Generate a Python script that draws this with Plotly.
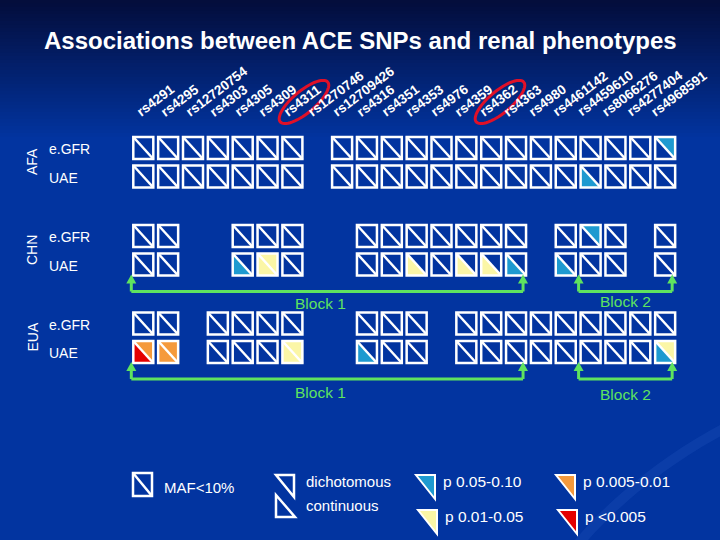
import numpy as np
import plotly.graph_objects as go

# ---------------- data ----------------
title = "Associations between ACE SNPs and renal phenotypes"
snps = ["rs4291", "rs4295", "rs12720754", "rs4303", "rs4305", "rs4309", "rs4311",
        "rs1270746", "rs12709426", "rs4316", "rs4351", "rs4353", "rs4976", "rs4359",
        "rs4362", "rs4363", "rs4980", "rs4461142", "rs4459610", "rs8066276",
        "rs4277404", "rs4968591"]
highlighted = ["rs4311", "rs4362"]
populations = ["AFA", "CHN", "EUA"]
phenotypes = ["e.GFR", "UAE"]

# SNPs analysed (MAF >= 10%) per population (indices into snps)
afa_snps = [0, 1, 2, 3, 4, 5, 6, 8, 9, 10, 11, 12, 13, 14, 15, 16, 17, 18, 19, 20, 21]
chn_snps = [0, 1, 4, 5, 6, 9, 10, 11, 12, 13, 14, 15, 17, 18, 19, 21]
eua_snps = [0, 1, 3, 4, 5, 6, 9, 10, 11, 13, 14, 15, 16, 17, 18, 19, 20, 21]
pop_snps = {"AFA": afa_snps, "CHN": chn_snps, "EUA": eua_snps}

# associations: population, phenotype, snp index, model, p-value class
assoc_pop = ["AFA", "AFA", "CHN", "CHN", "CHN", "CHN", "CHN", "CHN", "CHN", "CHN", "CHN",
             "EUA", "EUA", "EUA", "EUA", "EUA", "EUA", "EUA", "EUA", "EUA"]
assoc_pheno = ["e.GFR", "UAE", "e.GFR", "UAE", "UAE", "UAE", "UAE", "UAE", "UAE", "UAE", "UAE",
               "UAE", "UAE", "UAE", "UAE", "UAE", "UAE", "UAE", "UAE", "UAE"]
assoc_snp = [21, 18, 18, 4, 5, 11, 13, 14, 15, 17, 5,
             0, 0, 1, 1, 6, 6, 9, 21, 21]
assoc_model = ["dichotomous", "continuous", "dichotomous", "continuous", "continuous",
               "continuous", "continuous", "continuous", "continuous", "continuous", "dichotomous",
               "continuous", "dichotomous", "continuous", "dichotomous", "continuous", "dichotomous",
               "continuous", "continuous", "dichotomous"]
assoc_level = ["p 0.05-0.10", "p 0.05-0.10", "p 0.05-0.10", "p 0.05-0.10", "p 0.01-0.05",
               "p 0.01-0.05", "p 0.01-0.05", "p 0.01-0.05", "p 0.05-0.10", "p 0.05-0.10", "p 0.01-0.05",
               "p <0.005", "p 0.005-0.01", "p 0.005-0.01", "p 0.005-0.01", "p 0.01-0.05", "p 0.01-0.05",
               "p 0.05-0.10", "p 0.05-0.10", "p 0.01-0.05"]

levels = ["p 0.05-0.10", "p 0.005-0.01", "p 0.01-0.05", "p <0.005"]
level_colors = ["#1e9ad0", "#f59a3c", "#fbf6a6", "#e40000"]

block_names = ["Block 1", "Block 2"]
block_first = [0, 18]
block_last = [15, 21]
bracket_pops = ["CHN", "EUA"]

# ---------------- layout constants ----------------
W, H = 720, 540
X0, PITCH, BW, BH = 133.3, 24.85, 20, 22
POP_Y = {"AFA": 148, "CHN": 236, "EUA": 323.5}
PHENO_DY = {"e.GFR": 0, "UAE": 28.5}
WHITE = "#ffffff"
GREEN = "#5fe35f"
BG = "#0234a0"
FONT = "Arial, Liberation Sans, sans-serif"

color_of = dict(zip(levels, level_colors))
shapes = []
annots = []


def col_left(i):
    return X0 + PITCH * i


# background gradient (top darker)
top_rgb = np.array([4, 14, 60])
bot_rgb = np.array([2, 52, 160])
n_strip = 40
for k in range(n_strip):
    t = k / (n_strip - 1)
    c = top_rgb + (bot_rgb - top_rgb) * t
    shapes.append(dict(type="rect", xref="x", yref="y", x0=0, x1=W,
                       y0=k * 3.5, y1=(k + 1) * 3.5 + 0.6, line=dict(width=0),
                       fillcolor="rgb(%d,%d,%d)" % tuple(c.astype(int)), layer="below"))
# faint swoosh lower right
ang = np.linspace(0.0, 1.2, 40)
sx = 1050 - 560 * np.cos(ang)
sy = 770 - 420 * np.sin(ang)
shapes.append(dict(type="path", xref="x", yref="y",
                   path="M " + " L ".join("%.1f,%.1f" % (a, b) for a, b in zip(sx, sy)),
                   line=dict(color="rgba(80,130,230,0.12)", width=10), layer="below"))


def tri_path(x0, y0, x1, y1, model):
    if model == "dichotomous":  # upper-right triangle
        return "M %.1f,%.1f L %.1f,%.1f L %.1f,%.1f Z" % (x0, y0, x1, y0, x1, y1)
    return "M %.1f,%.1f L %.1f,%.1f L %.1f,%.1f Z" % (x0, y0, x0, y1, x1, y1)


# colored triangles
for p, ph, s, m, lv in zip(assoc_pop, assoc_pheno, assoc_snp, assoc_model, assoc_level):
    yc = POP_Y[p] + PHENO_DY[ph]
    x0 = col_left(s)
    shapes.append(dict(type="path", xref="x", yref="y",
                       path=tri_path(x0, yc - BH / 2, x0 + BW, yc + BH / 2, m),
                       fillcolor=color_of[lv], line=dict(width=0)))

# boxes
for p in populations:
    for ph in phenotypes:
        yc = POP_Y[p] + PHENO_DY[ph]
        for s in pop_snps[p]:
            x0 = col_left(s)
            shapes.append(dict(type="rect", xref="x", yref="y", x0=x0, x1=x0 + BW,
                               y0=yc - BH / 2, y1=yc + BH / 2,
                               line=dict(color=WHITE, width=2.5)))
            shapes.append(dict(type="line", xref="x", yref="y", x0=x0, x1=x0 + BW,
                               y0=yc - BH / 2, y1=yc + BH / 2,
                               line=dict(color=WHITE, width=2.5)))
        annots.append(dict(x=47, y=yc + 1, text=ph, xanchor="left", yanchor="middle",
                           font=dict(size=14, color=WHITE, family=FONT)))
    annots.append(dict(x=32, y=POP_Y[p] + 14, text=p, textangle=-90, xanchor="center",
                       yanchor="middle", font=dict(size=14, color=WHITE, family=FONT)))

# SNP labels
for i, name in enumerate(snps):
    annots.append(dict(x=131 + 24.5 * i, y=122, text="<b>%s</b>" % name, textangle=-37,
                       xanchor="left", yanchor="bottom",
                       font=dict(size=13.5, color=WHITE, family=FONT)))

# red ellipses around highlighted SNPs
th = np.deg2rad(40)
tt = np.linspace(0, 2 * np.pi, 60)
for name in highlighted:
    i = snps.index(name)
    cx, cy = 132 + 24.5 * i + 25, 102
    a, b = 31, 11
    ex = cx + a * np.cos(tt) * np.cos(th) - b * np.sin(tt) * np.sin(th)
    ey = cy - (a * np.cos(tt) * np.sin(th) + b * np.sin(tt) * np.cos(th))
    shapes.append(dict(type="path", xref="x", yref="y",
                       path="M " + " L ".join("%.1f,%.1f" % (u, v) for u, v in zip(ex, ey)) + " Z",
                       line=dict(color="#e01028", width=3)))

# LD blocks
for p in bracket_pops:
    ly = POP_Y[p] + PHENO_DY["UAE"] + 27
    for bi, (nm, f, l) in enumerate(zip(block_names, block_first, block_last)):
        xa = col_left(f) - 2
        xb = col_left(l) + BW - 3
        shapes.append(dict(type="line", xref="x", yref="y", x0=xa, x1=xb, y0=ly, y1=ly,
                           line=dict(color=GREEN, width=3)))
        for xe in (xa, xb):
            shapes.append(dict(type="line", xref="x", yref="y", x0=xe, x1=xe, y0=ly, y1=ly - 9,
                               line=dict(color=GREEN, width=3)))
            shapes.append(dict(type="path", xref="x", yref="y",
                               path="M %.1f,%.1f L %.1f,%.1f L %.1f,%.1f Z" % (
                                   xe - 5, ly - 8, xe + 5, ly - 8, xe, ly - 17),
                               fillcolor=GREEN, line=dict(width=0)))
        dy = 12 if p == "CHN" else 13 + 2 * bi
        annots.append(dict(x=(xa + xb) / 2 - (7 if bi == 0 else 0), y=ly + dy - (2 * bi if p == "CHN" else 0),
                           text=nm, xanchor="center", yanchor="middle",
                           font=dict(size=15.5, color=GREEN, family=FONT)))

# legend: MAF box
shapes.append(dict(type="rect", xref="x", yref="y", x0=133, x1=152, y0=473, y1=496,
                   line=dict(color=WHITE, width=2.5)))
shapes.append(dict(type="line", xref="x", yref="y", x0=133, x1=152, y0=473, y1=496,
                   line=dict(color=WHITE, width=2.5)))
annots.append(dict(x=162, y=487, text="MAF<10%", xanchor="left", yanchor="middle",
                   font=dict(size=15, color=WHITE, family=FONT)))
# legend: model triangles
shapes.append(dict(type="path", xref="x", yref="y",
                   path=tri_path(276, 475, 294, 497, "dichotomous"), line=dict(color=WHITE, width=2.5)))
shapes.append(dict(type="path", xref="x", yref="y",
                   path=tri_path(276, 495, 295, 517, "continuous"), line=dict(color=WHITE, width=2.5)))
annots.append(dict(x=304, y=481, text="dichotomous", xanchor="left", yanchor="middle",
                   font=dict(size=15, color=WHITE, family=FONT)))
annots.append(dict(x=304, y=505, text="continuous", xanchor="left", yanchor="middle",
                   font=dict(size=15, color=WHITE, family=FONT)))
# legend: p-value classes
leg_x = [416, 556, 418, 558]
leg_y = [475, 475, 510, 510]
for lv, c, lx, ly in zip(levels, level_colors, leg_x, leg_y):
    shapes.append(dict(type="path", xref="x", yref="y",
                       path=tri_path(lx, ly, lx + 19, ly + 24, "dichotomous"),
                       fillcolor=c, line=dict(color=WHITE, width=2)))
    annots.append(dict(x=lx + 25, y=ly + 6, text=lv, xanchor="left", yanchor="middle",
                       font=dict(size=15.5, color=WHITE, family=FONT)))

# title
annots.append(dict(x=360, y=40, text="<b>%s</b>" % title, xanchor="center", yanchor="middle",
                   font=dict(size=24, color=WHITE, family=FONT)))

for a in annots:
    a.setdefault("xref", "x")
    a.setdefault("yref", "y")
    a["showarrow"] = False

fig = go.Figure()
fig.add_trace(go.Scatter(x=[0, W], y=[0, H], mode="markers", marker=dict(opacity=0),
                         hoverinfo="skip", showlegend=False))
fig.update_layout(width=W, height=H, margin=dict(l=0, r=0, t=0, b=0),
                  paper_bgcolor=BG, plot_bgcolor=BG, shapes=shapes, annotations=annots,
                  showlegend=False,
                  xaxis=dict(range=[0, W], visible=False, fixedrange=True),
                  yaxis=dict(range=[H, 0], visible=False, fixedrange=True))
fig.write_html("out.html", config={"displayModeBar": False},
               post_script="document.body.style.margin='0';document.body.style.overflow='hidden';")
